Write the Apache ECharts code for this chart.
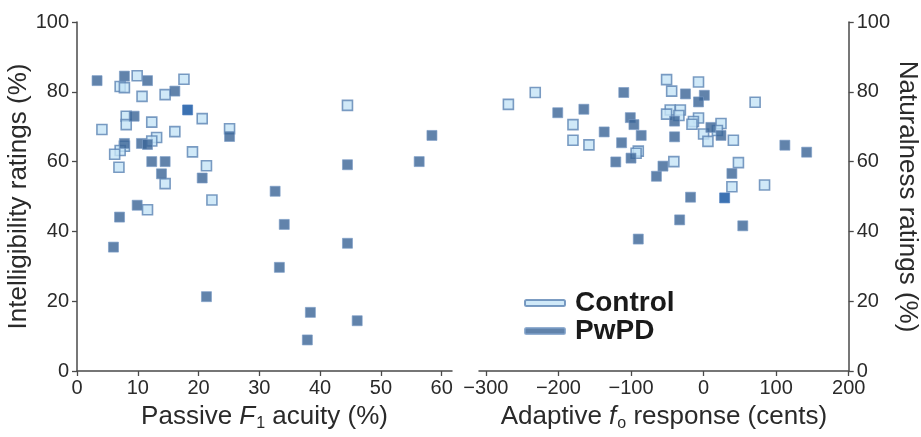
<!DOCTYPE html>
<html>
<head>
<meta charset="utf-8">
<script src="https://cdn.jsdelivr.net/npm/echarts@6/dist/echarts.min.js"></script>
<style>html,body{margin:0;padding:0;background:#fff}#c{width:921px;height:437px}</style>
</head>
<body>
<div id="c"></div>
<script>
// Left panel: Passive F1 acuity (%) vs Intelligibility ratings (%)
const controlAcuity = [
  [9.9,84.6],[17.6,83.6],[7.1,81.5],[7.8,81.2],[10.7,78.7],[14.5,79.2],[8.1,73.0],[8.1,70.6],
  [4.1,69.2],[12.3,71.3],[20.6,72.3],[16.1,68.6],[13.1,66.9],[12.3,65.9],[7.8,64.4],[7.1,63.2],
  [6.2,62.1],[19.0,62.8],[21.3,58.8],[6.9,58.4],[14.5,53.7],[22.2,49.0],[25.1,69.4],[11.6,46.2],
  [44.5,76.1]
];
const pwpdAcuity = [
  [3.3,83.2],[7.8,84.5],[11.6,83.2],[16.1,80.2],[9.4,73.0],[7.8,65.2],[10.6,65.2],[11.6,64.9],
  [12.3,60.0],[14.5,60.0],[13.9,56.5],[20.6,55.3],[25.1,67.2],[7.0,44.1],[9.9,47.5],[6.0,35.5],
  [21.3,21.3],[58.4,67.5],[44.5,59.1],[56.3,60.0],[32.6,51.5],[34.1,42.0],[44.5,36.6],[33.3,29.7],
  [38.4,16.8],[46.1,14.4],[37.9,8.9]
];
const highlightAcuity = [[18.2,74.8]];

// Right panel: Adaptive fo response (cents) vs Naturalness ratings (%)
const controlResponse = [
  [-269,76.4],[-232,79.8],[-180,70.6],[-180,66.1],[-158,64.8],[-90,63.0],[-93,62.4],[-51,83.5],
  [-44,80.2],[-46,74.8],[-51,73.6],[-41,60.0],[-7,82.8],[71,77.0],[-32,74.8],[-34,73.2],
  [-7,72.5],[-14,71.5],[-16,70.7],[24,70.9],[19,68.9],[0,67.9],[6,65.8],[41,66.1],
  [48,59.7],[84,53.3],[39,52.8]
];
const pwpdResponse = [
  [-110,79.8],[-201,74.0],[-165,75.0],[-137,68.5],[-101,72.6],[-96,70.6],[-86,67.5],[-113,65.4],
  [-121,59.9],[-100,61.0],[-56,58.7],[-65,55.8],[-40,71.6],[-40,67.1],[-25,79.4],[1,79.0],
  [-7,77.1],[10,69.8],[24,67.5],[112,64.7],[142,62.7],[39,56.6],[-18,49.8],[-33,43.3],
  [54,41.6],[-90,37.8]
];
const highlightResponse = [[29,49.6]];

const acuityTicks = [0,10,20,30,40,50,60];
const responseTicks = [-300,-200,-100,0,100,200];
const ratingTicks = [0,20,40,60,80,100];

const FONT = '"Liberation Sans", Arial, Helvetica, sans-serif';
const axisColor = '#4a4a4a';
const labelColor = '#2a2a2a';

const ctrlStyle = {color:'#c4e3f6', borderColor:'#5b83b3', borderWidth:1.6};
const pwpdStyle = {color:'#3a6496', borderColor:'#7a9cc6', borderWidth:0.8};
const hiStyle = {color:'#0b4f9f', borderColor:'#4a7cc0', borderWidth:0.8};

const chart = echarts.init(document.getElementById('c'), null, {renderer:'canvas'});

const richTitle = {
  n:{fontSize:26, fontFamily:FONT, color:labelColor},
  i:{fontSize:26, fontFamily:FONT, fontStyle:'italic', color:labelColor},
  s:{fontSize:16, fontFamily:FONT, color:labelColor, padding:[14,0,0,1]}
};

function xAxisBase(extra){
  return Object.assign({
    type:'value',
    axisLine:{show:true, onZero:false, lineStyle:{color:axisColor, width:1.5}},
    splitLine:{show:false},
    nameLocation:'middle',
    nameGap:31
  }, extra);
}
function yAxisBase(extra){
  return Object.assign({
    type:'value', min:0, max:100, interval:20,
    axisLine:{show:true, onZero:false, lineStyle:{color:axisColor, width:1.5}},
    axisTick:{show:true, length:5, lineStyle:{color:axisColor, width:1.3}},
    axisLabel:{color:labelColor, fontSize:20, fontFamily:FONT, margin:8},
    splitLine:{show:false},
    nameLocation:'middle',
    nameTextStyle:{color:labelColor, fontSize:26, fontFamily:FONT}
  }, extra);
}

const option = {
  backgroundColor:'#fff',
  animation:false,
  grid:[
    {left:77, width:375, top:22, bottom:64.3, containLabel:false},
    {left:479, right:69, top:22, bottom:64.3, containLabel:false}
  ],
  xAxis:[
    xAxisBase({
      gridIndex:0, min:0, max:61.7,
      axisTick:{show:true, length:5, customValues:acuityTicks, lineStyle:{color:axisColor, width:1.3}},
      axisLabel:{color:labelColor, fontSize:20, fontFamily:FONT, margin:7, customValues:acuityTicks},
      name:'{n|Passive }{i|F}{s|1}{n| acuity (%)}',
      nameTextStyle:{color:labelColor, fontSize:26, fontFamily:FONT, rich:richTitle}
    }),
    xAxisBase({
      gridIndex:1, min:-309.5, max:200,
      axisTick:{show:true, length:5, customValues:responseTicks, lineStyle:{color:axisColor, width:1.3}},
      axisLabel:{color:labelColor, fontSize:20, fontFamily:FONT, margin:7, customValues:responseTicks,
        formatter:function(v){return v<0 ? '\u2212'+Math.abs(v) : String(v);}},
      name:'{n|Adaptive }{i|f}{s|o}{n| response (cents)}',
      nameTextStyle:{color:labelColor, fontSize:26, fontFamily:FONT, rich:richTitle}
    })
  ],
  yAxis:[
    yAxisBase({gridIndex:0, position:'left', name:'Intelligibility ratings (%)', nameGap:42}),
    yAxisBase({gridIndex:1, position:'right', name:'Naturalness ratings (%)', nameGap:40, nameRotate:-90})
  ],
  legend:{
    data:['Control','PwPD'],
    orient:'vertical', left:524, top:289, padding:0, itemWidth:40, itemHeight:6, itemGap:0,
    icon:'roundRect',
    textStyle:{fontSize:28, fontWeight:'bold', fontFamily:FONT, color:'#1a1a1a', lineHeight:27, padding:[0,0,0,5]}
  },
  series:[
    {name:'Control', type:'scatter', xAxisIndex:0, yAxisIndex:0, symbol:'rect', symbolSize:10,
      itemStyle:ctrlStyle, data:controlAcuity, z:2},
    {name:'PwPD', type:'scatter', xAxisIndex:0, yAxisIndex:0, symbol:'rect', symbolSize:10,
      itemStyle:pwpdStyle, data:pwpdAcuity, z:3},
    {name:'PwPD (highlight)', type:'scatter', xAxisIndex:0, yAxisIndex:0, symbol:'rect', symbolSize:10,
      itemStyle:hiStyle, data:highlightAcuity, z:4},
    {name:'Control', type:'scatter', xAxisIndex:1, yAxisIndex:1, symbol:'rect', symbolSize:10,
      itemStyle:ctrlStyle, data:controlResponse, z:2},
    {name:'PwPD', type:'scatter', xAxisIndex:1, yAxisIndex:1, symbol:'rect', symbolSize:10,
      itemStyle:pwpdStyle, data:pwpdResponse, z:3},
    {name:'PwPD (highlight)', type:'scatter', xAxisIndex:1, yAxisIndex:1, symbol:'rect', symbolSize:10,
      itemStyle:hiStyle, data:highlightResponse, z:4}
  ]
};
chart.setOption(option);
</script>
</body>
</html>
